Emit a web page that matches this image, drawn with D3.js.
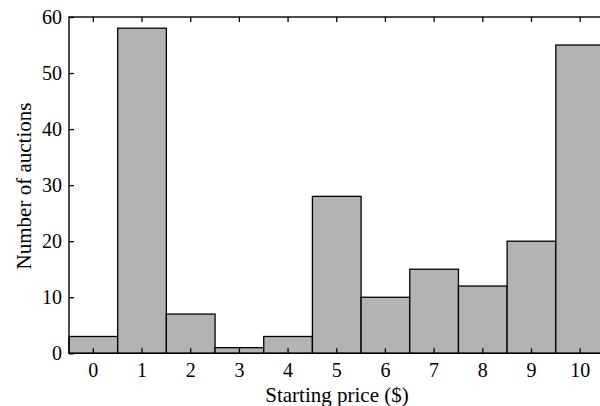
<!DOCTYPE html>
<html><head><meta charset="utf-8">
<script src="https://cdn.jsdelivr.net/npm/d3@7"></script>
<style>body{margin:0;background:#fff}svg{display:block}text{font-family:"Liberation Serif","Times New Roman",serif;fill:#000}</style>
</head><body><svg id="c" width="600" height="406"></svg>
<script>
const categories = ["0","1","2","3","4","5","6","7","8","9","10"];
const counts = [3, 58, 7, 1, 3, 28, 10, 15, 12, 20, 55];
const yTicks = [0, 10, 20, 30, 40, 50, 60];

const svg = d3.select("#c");
const m = {l:69, t:17, r:604.5, b:353.3};
const x = d3.scaleBand().domain(categories).range([m.l, m.r]).padding(0);
const y = d3.scaleLinear().domain([0, 60]).range([m.b, m.t]);

svg.append("g").selectAll("rect").data(counts).join("rect")
  .attr("x", (d,i)=>x(categories[i]))
  .attr("y", d=>y(d))
  .attr("width", x.bandwidth())
  .attr("height", d=>y(0)-y(d))
  .attr("fill", "#b3b3b3").attr("stroke", "#000").attr("stroke-width", 1.3);

// frame
svg.append("rect").attr("x", m.l).attr("y", m.t).attr("width", m.r-m.l).attr("height", m.b-m.t)
  .attr("fill","none").attr("stroke","#000").attr("stroke-width",1.4);

// left axis
const yAx = svg.append("g").attr("transform", `translate(${m.l},0)`)
  .call(d3.axisLeft(y).tickValues(yTicks).tickSizeInner(-5).tickSizeOuter(0).tickPadding(7));
yAx.select(".domain").remove();
yAx.selectAll("line").attr("stroke-width",1.3);
yAx.selectAll("text").style("font-size","20px").style("font-family",'"Liberation Serif",serif');

// top axis ticks
const tAx = svg.append("g").attr("transform", `translate(0,${m.t})`)
  .call(d3.axisTop(x).tickSizeInner(-5).tickSizeOuter(0).tickFormat(""));
tAx.select(".domain").remove();
tAx.selectAll("line").attr("stroke-width",1.3);

// bottom axis
const bAx = svg.append("g").attr("transform", `translate(0,${m.b})`)
  .call(d3.axisBottom(x).tickSizeInner(-5).tickSizeOuter(0).tickPadding(10));
bAx.select(".domain").remove();
bAx.selectAll("line").attr("stroke-width",1.3);
bAx.selectAll("text").style("font-size","20px").style("font-family",'"Liberation Serif",serif');

svg.append("text").attr("x", 337).attr("y", 402).attr("text-anchor","middle")
  .style("font-size","21px").text("Starting price ($)");
svg.append("text").attr("transform","translate(31,186) rotate(-90)").attr("text-anchor","middle")
  .style("font-size","21px").text("Number of auctions");
</script></body></html>
